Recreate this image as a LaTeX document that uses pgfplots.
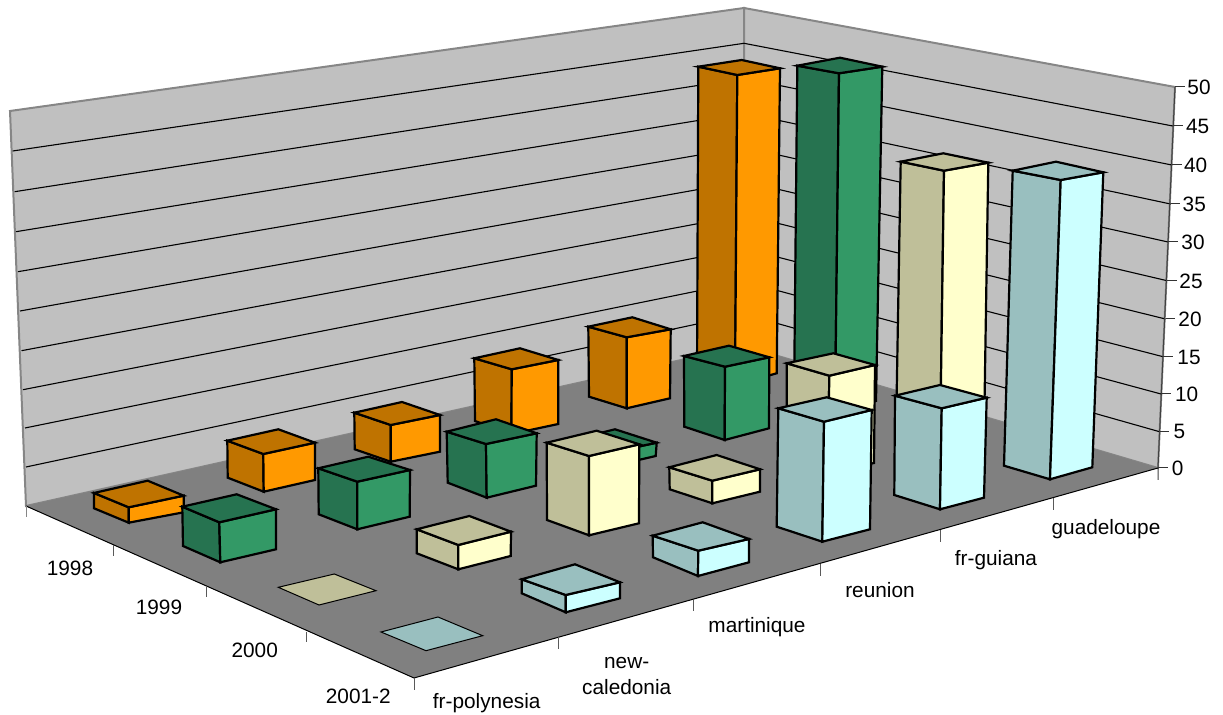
\documentclass[border=0pt]{standalone}
\usepackage{fontspec}
\setmainfont{Liberation Sans}
\usepackage{pgfplots}
\pgfplotsset{compat=1.18}

% colours of the faces: dark side + top, light side
\definecolor{wallgray}{HTML}{C0C0C0}
\definecolor{floorgray}{HTML}{808080}
\definecolor{edgegray}{HTML}{868686}
\definecolor{orD}{HTML}{BF7300}
\definecolor{orL}{HTML}{FF9900}
\definecolor{grD}{HTML}{267350}
\definecolor{grL}{HTML}{339966}
\definecolor{yeD}{HTML}{BFBF99}
\definecolor{yeL}{HTML}{FFFFCC}
\definecolor{cyD}{HTML}{99BFBF}
\definecolor{cyL}{HTML}{CCFFFF}

% one column in perspective, corners in picture pixels:
% top left, top back, top right, top front, bottom left, bottom front, bottom right
\newcommand\barcol[9]{%
  \addplot[fill=#8,draw=black,line width=1.1pt] coordinates {#1 #4 #6 #5} -- cycle;
  \addplot[fill=#9,draw=black,line width=1.1pt] coordinates {#4 #3 #7 #6} -- cycle;
  \addplot[fill=#8,draw=black,line width=1.1pt] coordinates {#1 #2 #3 #4} -- cycle;
}
% a zero value is only a flat quad on the floor
\newcommand\flatquad[5]{%
  \addplot[fill=#5,draw=black,line width=0.5pt] coordinates {#1 #2 #3 #4} -- cycle;
}
\newcommand\ticklab[3]{\node[anchor=base,inner sep=0pt] at (axis cs:#1,#2) {#3};}

\begin{document}
\begin{tikzpicture}
\begin{axis}[
    scale only axis,
    width=611.5pt, height=357.5pt,
    xmin=0, xmax=1223,
    ymin=0, ymax=715,
    y dir=reverse,
    axis lines=none,
    no markers,
    font=\fontsize{10.4}{12}\selectfont,
]
% walls and floor
\addplot[fill=wallgray,draw=edgegray,line width=1pt] coordinates {(10,111) (744,8) (744,346) (26,506)} -- cycle;
\addplot[fill=wallgray,draw=edgegray,line width=1pt] coordinates {(744,8) (1175,87) (1158,468) (744,346)} -- cycle;
\addplot[fill=floorgray,draw=none] coordinates {(26,506) (744,346) (1158,468) (414,678)} -- cycle;

% grid lines, 5 to 45
\addplot[black,line width=0.55pt] coordinates {(26,467) (744,314) (1159.5,431.7)};
\addplot[black,line width=0.55pt] coordinates {(25,428) (744,281.5) (1161,394)};
\addplot[black,line width=0.55pt] coordinates {(23,389.7) (744,248.4) (1163,356.7)};
\addplot[black,line width=0.55pt] coordinates {(21.5,350.7) (744,215) (1165.5,319)};
\addplot[black,line width=0.55pt] coordinates {(20,311) (744,181.3) (1167,280.7)};
\addplot[black,line width=0.55pt] coordinates {(18,271.7) (744,147.3) (1168,242)};
\addplot[black,line width=0.55pt] coordinates {(16,231.7) (744,113) (1170.5,204)};
\addplot[black,line width=0.55pt] coordinates {(14.7,191.7) (744,78.3) (1171.7,165)};
\addplot[black,line width=0.55pt] coordinates {(12.7,151) (744,43.3) (1172.7,126)};

% axis lines and tick marks
\addplot[black!75,line width=0.5pt] coordinates {(1175,87) (1158,468) (1158,480)};
\addplot[black,line width=0.5pt] coordinates {(26,506) (414,678) (1158,468)};
\addplot[edgegray,line width=0.6pt] coordinates {(26.7,506) (26.7,517)};
\addplot[black!65,line width=0.5pt] coordinates {(113,545) (113,556)};
\addplot[black!65,line width=0.5pt] coordinates {(206,586) (206,597)};
\addplot[black!65,line width=0.5pt] coordinates {(306,632) (306,642)};
\addplot[black!65,line width=0.5pt] coordinates {(414,678) (414,690)};
\addplot[black!65,line width=0.5pt] coordinates {(558,637) (558,649)};
\addplot[black!65,line width=0.5pt] coordinates {(693,600) (693,611)};
\addplot[black!65,line width=0.5pt] coordinates {(820,564) (820,576)};
\addplot[black!65,line width=0.5pt] coordinates {(940,530) (940,542)};
\addplot[black!65,line width=0.5pt] coordinates {(1053,498) (1053,510)};
\addplot[black!80,line width=0.5pt] coordinates {(1175,87) (1185,87)};
\addplot[black!80,line width=0.5pt] coordinates {(1172.7,126) (1183,126)};
\addplot[black!80,line width=0.5pt] coordinates {(1171.7,165) (1182,165)};
\addplot[black!80,line width=0.5pt] coordinates {(1170.5,204) (1180,204)};
\addplot[black!80,line width=0.5pt] coordinates {(1168,242) (1178,242)};
\addplot[black!80,line width=0.5pt] coordinates {(1167,281) (1177,281)};
\addplot[black!80,line width=0.5pt] coordinates {(1165.5,319) (1175,319)};
\addplot[black!80,line width=0.5pt] coordinates {(1163,357) (1173,357)};
\addplot[black!80,line width=0.5pt] coordinates {(1161,394) (1171,394)};
\addplot[black!80,line width=0.5pt] coordinates {(1159.5,432) (1169,432)};
\addplot[black!80,line width=0.5pt] coordinates {(1158,468) (1168,468)};

% 1998
\barcol{(94,493)}{(147.7,480.7)}{(183.7,495.7)}{(128.7,507.3)}{(94,508.3)}{(128.7,522.7)}{(183.7,512.3)}{orD}{orL}
\barcol{(227.3,440.7)}{(278.3,429.3)}{(315,442.7)}{(263.3,454)}{(227.7,477.7)}{(263.7,491.7)}{(315,480)}{orD}{orL}
\barcol{(354.3,412.7)}{(402,402)}{(440,415)}{(390.7,425)}{(354.7,449.3)}{(390.7,461.7)}{(440,451.7)}{orD}{orL}
\barcol{(474.3,358.3)}{(520,348.3)}{(558.3,360)}{(511.7,369.3)}{(475,421)}{(511.5,434)}{(558.3,424)}{orD}{orL}
\barcol{(588.3,326.7)}{(632.3,317.3)}{(670.7,329.3)}{(626.7,337.3)}{(589,396.7)}{(626.7,408.3)}{(670,398.3)}{orD}{orL}
\barcol{(698.3,66.7)}{(741.7,60)}{(780,68.3)}{(737.3,75)}{(697,373)}{(735,385)}{(776.7,373.3)}{orD}{orL}

% 1999
\barcol{(182.3,506.7)}{(236.7,494.3)}{(276,509.3)}{(219.3,522.3)}{(183,546)}{(220.3,562.3)}{(276,549.3)}{grD}{grL}
\barcol{(318.3,468.3)}{(368.3,456.7)}{(410,470)}{(357.3,481.7)}{(318.7,514.3)}{(357.3,529.3)}{(409.7,516.7)}{grD}{grL}
\barcol{(446.7,431.7)}{(496,419.3)}{(536.7,433.3)}{(486,444)}{(447.7,482.7)}{(486.7,497.7)}{(536,485.7)}{grD}{grL}
\barcol{(568,441)}{(615,429.3)}{(656.7,442.7)}{(608.5,453)}{(568,454)}{(608.5,467)}{(655.7,456)}{grD}{grL}
\barcol{(684,356)}{(729,345.7)}{(769.3,357.3)}{(725,366.7)}{(684.3,426.7)}{(724.7,440)}{(769,428.3)}{grD}{grL}
\barcol{(797.3,65.7)}{(840,57.7)}{(882.3,66.7)}{(839,73.3)}{(794,400)}{(835,413)}{(876,401)}{grD}{grL}

% 2000
\flatquad{(278.3,587.3)}{(334.3,574)}{(376,590.7)}{(319,605)}{yeD}
\barcol{(416.7,529.3)}{(469.3,516)}{(511,531.7)}{(458.3,545)}{(416.7,553.3)}{(458.3,569.3)}{(510.7,556)}{yeD}{yeL}
\barcol{(546.7,442.7)}{(596.7,430.7)}{(639.3,444.3)}{(589,456)}{(547,520)}{(589,535.3)}{(639,523.3)}{yeD}{yeL}
\barcol{(669.3,467.3)}{(716.7,455)}{(760,469.3)}{(712.3,480.7)}{(669.7,489.3)}{(712.3,503.3)}{(760,491.7)}{yeD}{yeL}
\barcol{(786.7,363.3)}{(833.3,353.3)}{(875,365)}{(829.3,375.7)}{(787,460)}{(828,473)}{(874,463)}{yeD}{yeL}
\barcol{(900.7,161.7)}{(943.3,153.3)}{(988.3,162.7)}{(944,170.7)}{(896,433)}{(940,448)}{(984,436)}{yeD}{yeL}

% 2001-2
\flatquad{(381,632)}{(438,617)}{(482.7,635.7)}{(426,650.7)}{cyD}
\barcol{(521.7,579.3)}{(575,564.3)}{(620,582.3)}{(565.7,595)}{(521.7,593.3)}{(565.7,612.3)}{(620,598.3)}{cyD}{cyL}
\barcol{(652.7,535.7)}{(702.7,522.3)}{(749,539)}{(698.3,550.7)}{(653,557.3)}{(698,576)}{(749,562.3)}{cyD}{cyL}
\barcol{(778.3,408.3)}{(826.7,397.3)}{(871.7,410)}{(824,421.7)}{(776.7,526.7)}{(822.3,541.7)}{(870,529.3)}{cyD}{cyL}
\barcol{(895,395.7)}{(940,385)}{(986.7,397.7)}{(941.7,408.3)}{(894.3,495)}{(940,509.3)}{(984,497.7)}{cyD}{cyL}
\barcol{(1012.7,170.7)}{(1056,161.7)}{(1103.3,172.3)}{(1060.7,180)}{(1004,465.7)}{(1050,479.3)}{(1092.3,467.3)}{cyD}{cyL}

% labels
\ticklab{70}{576}{1998}
\ticklab{159}{615}{1999}
\ticklab{254.7}{657.7}{2000}
\ticklab{358.3}{704}{2001-2}
\ticklab{486.7}{708.3}{fr-polynesia}
\ticklab{626.7}{668.3}{new-}
\ticklab{626.7}{695}{caledonia}
\ticklab{757}{632.3}{martinique}
\ticklab{880}{598}{reunion}
\ticklab{996}{566}{fr-guiana}
\ticklab{1106}{535}{guadeloupe}
\ticklab{1199}{94.5}{50}
\ticklab{1197.7}{133.5}{45}
\ticklab{1195.7}{172.5}{40}
\ticklab{1194.3}{211.5}{35}
\ticklab{1193}{249.5}{30}
\ticklab{1191}{288.5}{25}
\ticklab{1190}{326.5}{20}
\ticklab{1189}{364.5}{15}
\ticklab{1186.7}{401.5}{10}
\ticklab{1179.3}{439}{5}
\ticklab{1177.7}{475.5}{0}
\end{axis}
\pgfresetboundingbox
\path (0,0) rectangle (611.5pt,357.5pt);
\end{tikzpicture}
\end{document}
